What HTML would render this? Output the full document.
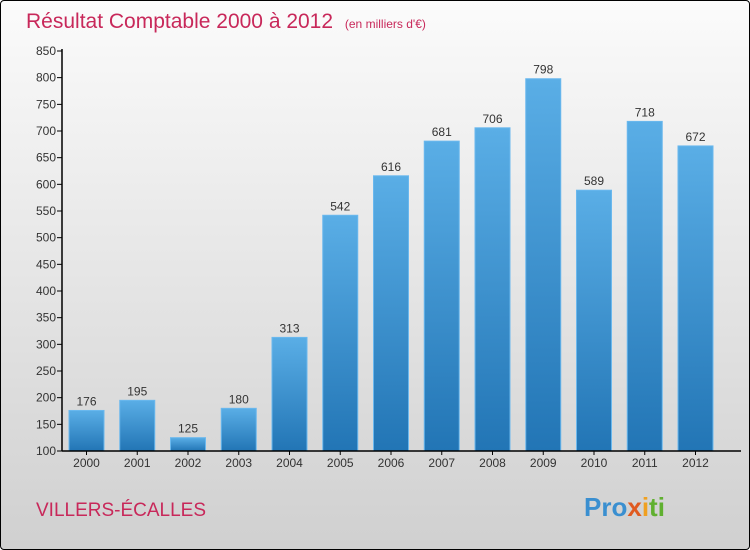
<!DOCTYPE html>
<html><head><meta charset="utf-8"><style>
body{margin:0}
#c{position:relative;width:748px;height:548px;border:1px solid #000;border-radius:4px;background:linear-gradient(#fbfbfb,#d0d0d0);overflow:hidden;font-family:"Liberation Sans",sans-serif}
</style></head><body>
<div id="c">
<svg width="748" height="548">
<defs><linearGradient id="bg" x1="0" y1="0" x2="0" y2="1"><stop offset="0" stop-color="#5aaee6"/><stop offset="1" stop-color="#2275b5"/></linearGradient></defs>
<text x="25" y="27" font-size="21" fill="#c8285a">Résultat Comptable 2000 à 2012 <tspan font-size="12" dx="6">(en milliers d'€)</tspan></text>
<g id="plot"></g>
<text x="35" y="515" font-size="19" fill="#c8285a">VILLERS-ÉCALLES</text>
<text x="583" y="515" font-size="26" font-weight="bold"><tspan fill="#3a8fd0">Pro</tspan><tspan fill="#e05a20">x</tspan><tspan fill="#f0a020">i</tspan><tspan fill="#60b030">ti</tspan></text>
</svg>
</div>
<script>
const categories=["2000","2001","2002","2003","2004","2005","2006","2007","2008","2009","2010","2011","2012"];
const values=[176,195,125,180,313,542,616,681,706,798,589,718,672];
const yTicks=[100,150,200,250,300,350,400,450,500,550,600,650,700,750,800,850];
const ns="http://www.w3.org/2000/svg";
const g=document.getElementById("plot");
const y=v=>450-(v-100)*400/750;
const x=i=>85.5+i*50.75;
function mk(t,a){const e=document.createElementNS(ns,t);for(const k in a)e.setAttribute(k,a[k]);g.appendChild(e);return e;}
yTicks.forEach(v=>{
 const l=mk("line",{x1:56,x2:61,y1:y(v),y2:y(v),stroke:"#000"});
 
 
 const t=mk("text",{x:55,y:y(v)+4,"font-size":12,fill:"#333","text-anchor":"end"});t.textContent=v;
 
 
});
values.forEach((v,i)=>{
 const r=mk("rect",{x:x(i)-17.5,y:y(v),width:35,height:450-y(v),fill:"url(#bg)",stroke:"#6ab8ee","stroke-width":1});
 
 
 const t=mk("text",{x:x(i),y:y(v)-5,"font-size":12,fill:"#333","text-anchor":"middle"});t.textContent=v;
 
 
 const c=mk("text",{x:x(i),y:466,"font-size":12,fill:"#333","text-anchor":"middle"});c.textContent=categories[i];
 
 
 const tk=mk("line",{x1:x(i),x2:x(i),y1:450,y2:454,stroke:"#000"});
 
 
});
const ya=mk("line",{x1:61,x2:61,y1:48,y2:450,stroke:"#000","stroke-width":1.5});


const xa=mk("line",{x1:61,x2:740,y1:450,y2:450,stroke:"#000","stroke-width":1.5});


</script>
</body></html>
